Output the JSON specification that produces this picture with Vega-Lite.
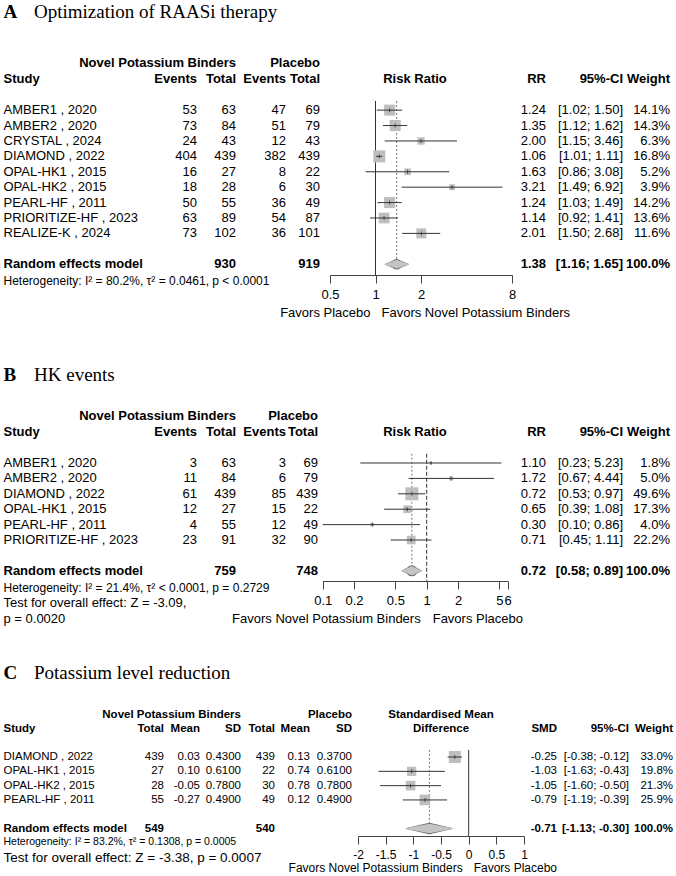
{
"$schema": "https://vega.github.io/schema/vega-lite/v6.json",
"background": "white",
"padding": 0,
"datasets": {
"one": [{"k": 1}],
"A": [
{"study":"AMBER1 , 2020","e1":53,"n1":63,"e2":47,"n2":69,"rr":1.24,"lo":1.02,"hi":1.50,"ci":"[1.02; 1.50]","w":0.141},
{"study":"AMBER2 , 2020","e1":73,"n1":84,"e2":51,"n2":79,"rr":1.35,"lo":1.12,"hi":1.62,"ci":"[1.12; 1.62]","w":0.143},
{"study":"CRYSTAL , 2024","e1":24,"n1":43,"e2":12,"n2":43,"rr":2.00,"lo":1.15,"hi":3.46,"ci":"[1.15; 3.46]","w":0.063},
{"study":"DIAMOND , 2022","e1":404,"n1":439,"e2":382,"n2":439,"rr":1.06,"lo":1.01,"hi":1.11,"ci":"[1.01; 1.11]","w":0.168},
{"study":"OPAL-HK1 , 2015","e1":16,"n1":27,"e2":8,"n2":22,"rr":1.63,"lo":0.86,"hi":3.08,"ci":"[0.86; 3.08]","w":0.052},
{"study":"OPAL-HK2 , 2015","e1":18,"n1":28,"e2":6,"n2":30,"rr":3.21,"lo":1.49,"hi":6.92,"ci":"[1.49; 6.92]","w":0.039},
{"study":"PEARL-HF , 2011","e1":50,"n1":55,"e2":36,"n2":49,"rr":1.24,"lo":1.03,"hi":1.49,"ci":"[1.03; 1.49]","w":0.142},
{"study":"PRIORITIZE-HF , 2023","e1":63,"n1":89,"e2":54,"n2":87,"rr":1.14,"lo":0.92,"hi":1.41,"ci":"[0.92; 1.41]","w":0.136},
{"study":"REALIZE-K , 2024","e1":73,"n1":102,"e2":36,"n2":101,"rr":2.01,"lo":1.50,"hi":2.68,"ci":"[1.50; 2.68]","w":0.116}
],
"As": [{"label":"Random effects model","n1":930,"n2":919,"rr":1.38,"lo":1.16,"hi":1.65,"ci":"[1.16; 1.65]","w":1}],
"B": [
{"study":"AMBER1 , 2020","e1":3,"n1":63,"e2":3,"n2":69,"rr":1.10,"lo":0.23,"hi":5.23,"ci":"[0.23; 5.23]","w":0.018},
{"study":"AMBER2 , 2020","e1":11,"n1":84,"e2":6,"n2":79,"rr":1.72,"lo":0.67,"hi":4.44,"ci":"[0.67; 4.44]","w":0.050},
{"study":"DIAMOND , 2022","e1":61,"n1":439,"e2":85,"n2":439,"rr":0.72,"lo":0.53,"hi":0.97,"ci":"[0.53; 0.97]","w":0.496},
{"study":"OPAL-HK1 , 2015","e1":12,"n1":27,"e2":15,"n2":22,"rr":0.65,"lo":0.39,"hi":1.08,"ci":"[0.39; 1.08]","w":0.173},
{"study":"PEARL-HF , 2011","e1":4,"n1":55,"e2":12,"n2":49,"rr":0.30,"lo":0.10,"hi":0.86,"ci":"[0.10; 0.86]","w":0.040},
{"study":"PRIORITIZE-HF , 2023","e1":23,"n1":91,"e2":32,"n2":90,"rr":0.71,"lo":0.45,"hi":1.11,"ci":"[0.45; 1.11]","w":0.222}
],
"Bs": [{"label":"Random effects model","n1":759,"n2":748,"rr":0.72,"lo":0.58,"hi":0.89,"ci":"[0.58; 0.89]","w":1}],
"C": [
{"study":"DIAMOND , 2022","n1":439,"m1":0.03,"sd1":0.43,"n2":439,"m2":0.13,"sd2":0.37,"smd":-0.25,"lo":-0.38,"hi":-0.12,"ci":"[-0.38; -0.12]","w":0.330},
{"study":"OPAL-HK1 , 2015","n1":27,"m1":0.10,"sd1":0.61,"n2":22,"m2":0.74,"sd2":0.61,"smd":-1.03,"lo":-1.63,"hi":-0.43,"ci":"[-1.63; -0.43]","w":0.198},
{"study":"OPAL-HK2 , 2015","n1":28,"m1":-0.05,"sd1":0.78,"n2":30,"m2":0.78,"sd2":0.78,"smd":-1.05,"lo":-1.60,"hi":-0.50,"ci":"[-1.60; -0.50]","w":0.213},
{"study":"PEARL-HF , 2011","n1":55,"m1":-0.27,"sd1":0.49,"n2":49,"m2":0.12,"sd2":0.49,"smd":-0.79,"lo":-1.19,"hi":-0.39,"ci":"[-1.19; -0.39]","w":0.259}
],
"Cs": [{"label":"Random effects model","n1":549,"n2":540,"smd":-0.71,"lo":-1.13,"hi":-0.30,"ci":"[-1.13; -0.30]","w":1}]
},
"vconcat": [
{
"width": 676, "height": 275,
"data": {"name": "A"},
"transform": [{"window": [{"op": "row_number", "as": "i"}]}],
"resolve": {"scale": {"x": "independent"}},
"layer": [
{"mark": {"type": "text", "align": "left"}, "encoding": {"x": {"datum": 0, "type": "quantitative", "scale": {"domain": [0,1,2,3,4,5,6,7,8,9], "range": [3.5,34,197,236,286,320,415,546,623,670], "nice": false, "zero": false}, "axis": null}, "y": {"field": "i", "type": "quantitative", "scale": {"domain": [-6.15, 11.7], "reverse": true, "nice": false, "zero": false}, "axis": null}, "text": {"field": "study", "type": "nominal"}}},
{"mark": {"type": "text", "align": "right"}, "encoding": {"x": {"datum": 2, "type": "quantitative", "scale": {"domain": [0,1,2,3,4,5,6,7,8,9], "range": [3.5,34,197,236,286,320,415,546,623,670], "nice": false, "zero": false}, "axis": null}, "y": {"field": "i", "type": "quantitative", "scale": {"domain": [-6.15, 11.7], "reverse": true, "nice": false, "zero": false}, "axis": null}, "text": {"field": "e1", "type": "quantitative", "format": "d"}}},
{"mark": {"type": "text", "align": "right"}, "encoding": {"x": {"datum": 3, "type": "quantitative", "scale": {"domain": [0,1,2,3,4,5,6,7,8,9], "range": [3.5,34,197,236,286,320,415,546,623,670], "nice": false, "zero": false}, "axis": null}, "y": {"field": "i", "type": "quantitative", "scale": {"domain": [-6.15, 11.7], "reverse": true, "nice": false, "zero": false}, "axis": null}, "text": {"field": "n1", "type": "quantitative", "format": "d"}}},
{"mark": {"type": "text", "align": "right"}, "encoding": {"x": {"datum": 4, "type": "quantitative", "scale": {"domain": [0,1,2,3,4,5,6,7,8,9], "range": [3.5,34,197,236,286,320,415,546,623,670], "nice": false, "zero": false}, "axis": null}, "y": {"field": "i", "type": "quantitative", "scale": {"domain": [-6.15, 11.7], "reverse": true, "nice": false, "zero": false}, "axis": null}, "text": {"field": "e2", "type": "quantitative", "format": "d"}}},
{"mark": {"type": "text", "align": "right"}, "encoding": {"x": {"datum": 5, "type": "quantitative", "scale": {"domain": [0,1,2,3,4,5,6,7,8,9], "range": [3.5,34,197,236,286,320,415,546,623,670], "nice": false, "zero": false}, "axis": null}, "y": {"field": "i", "type": "quantitative", "scale": {"domain": [-6.15, 11.7], "reverse": true, "nice": false, "zero": false}, "axis": null}, "text": {"field": "n2", "type": "quantitative", "format": "d"}}},
{"mark": {"type": "text", "align": "right"}, "encoding": {"x": {"datum": 7, "type": "quantitative", "scale": {"domain": [0,1,2,3,4,5,6,7,8,9], "range": [3.5,34,197,236,286,320,415,546,623,670], "nice": false, "zero": false}, "axis": null}, "y": {"field": "i", "type": "quantitative", "scale": {"domain": [-6.15, 11.7], "reverse": true, "nice": false, "zero": false}, "axis": null}, "text": {"field": "rr", "type": "quantitative", "format": ".2f"}}},
{"mark": {"type": "text", "align": "right"}, "encoding": {"x": {"datum": 8, "type": "quantitative", "scale": {"domain": [0,1,2,3,4,5,6,7,8,9], "range": [3.5,34,197,236,286,320,415,546,623,670], "nice": false, "zero": false}, "axis": null}, "y": {"field": "i", "type": "quantitative", "scale": {"domain": [-6.15, 11.7], "reverse": true, "nice": false, "zero": false}, "axis": null}, "text": {"field": "ci", "type": "nominal"}}},
{"mark": {"type": "text", "align": "right"}, "encoding": {"x": {"datum": 9, "type": "quantitative", "scale": {"domain": [0,1,2,3,4,5,6,7,8,9], "range": [3.5,34,197,236,286,320,415,546,623,670], "nice": false, "zero": false}, "axis": null}, "y": {"field": "i", "type": "quantitative", "scale": {"domain": [-6.15, 11.7], "reverse": true, "nice": false, "zero": false}, "axis": null}, "text": {"field": "w", "type": "quantitative", "format": ".1%"}}},
{"data": {"name": "one"}, "mark": {"type": "text", "align": "left", "font": "Liberation Serif", "fontSize": 19, "fontWeight": "bold"}, "encoding": {"x": {"datum": 0, "type": "quantitative", "scale": {"domain": [0,1,2,3,4,5,6,7,8,9], "range": [3.5,34,197,236,286,320,415,546,623,670], "nice": false, "zero": false}, "axis": null}, "y": {"datum": -5.4, "type": "quantitative", "scale": {"domain": [-6.15, 11.7], "reverse": true, "nice": false, "zero": false}, "axis": null}, "text": {"value": "A"}}},
{"data": {"name": "one"}, "mark": {"type": "text", "align": "left", "font": "Liberation Serif", "fontSize": 19}, "encoding": {"x": {"datum": 1, "type": "quantitative", "scale": {"domain": [0,1,2,3,4,5,6,7,8,9], "range": [3.5,34,197,236,286,320,415,546,623,670], "nice": false, "zero": false}, "axis": null}, "y": {"datum": -5.4, "type": "quantitative", "scale": {"domain": [-6.15, 11.7], "reverse": true, "nice": false, "zero": false}, "axis": null}, "text": {"value": "Optimization of RAASi therapy"}}},
{"data": {"name": "one"}, "mark": {"type": "text", "align": "right", "fontWeight": "bold"}, "encoding": {"x": {"datum": 3, "type": "quantitative", "scale": {"domain": [0,1,2,3,4,5,6,7,8,9], "range": [3.5,34,197,236,286,320,415,546,623,670], "nice": false, "zero": false}, "axis": null}, "y": {"datum": -2.07, "type": "quantitative", "scale": {"domain": [-6.15, 11.7], "reverse": true, "nice": false, "zero": false}, "axis": null}, "text": {"value": "Novel Potassium Binders"}}},
{"data": {"name": "one"}, "mark": {"type": "text", "align": "right", "fontWeight": "bold"}, "encoding": {"x": {"datum": 5, "type": "quantitative", "scale": {"domain": [0,1,2,3,4,5,6,7,8,9], "range": [3.5,34,197,236,286,320,415,546,623,670], "nice": false, "zero": false}, "axis": null}, "y": {"datum": -2.07, "type": "quantitative", "scale": {"domain": [-6.15, 11.7], "reverse": true, "nice": false, "zero": false}, "axis": null}, "text": {"value": "Placebo"}}},
{"data": {"name": "one"}, "mark": {"type": "text", "align": "left", "fontWeight": "bold"}, "encoding": {"x": {"datum": 0, "type": "quantitative", "scale": {"domain": [0,1,2,3,4,5,6,7,8,9], "range": [3.5,34,197,236,286,320,415,546,623,670], "nice": false, "zero": false}, "axis": null}, "y": {"datum": -1, "type": "quantitative", "scale": {"domain": [-6.15, 11.7], "reverse": true, "nice": false, "zero": false}, "axis": null}, "text": {"value": "Study"}}},
{"data": {"name": "one"}, "mark": {"type": "text", "align": "right", "fontWeight": "bold"}, "encoding": {"x": {"datum": 2, "type": "quantitative", "scale": {"domain": [0,1,2,3,4,5,6,7,8,9], "range": [3.5,34,197,236,286,320,415,546,623,670], "nice": false, "zero": false}, "axis": null}, "y": {"datum": -1, "type": "quantitative", "scale": {"domain": [-6.15, 11.7], "reverse": true, "nice": false, "zero": false}, "axis": null}, "text": {"value": "Events"}}},
{"data": {"name": "one"}, "mark": {"type": "text", "align": "right", "fontWeight": "bold"}, "encoding": {"x": {"datum": 3, "type": "quantitative", "scale": {"domain": [0,1,2,3,4,5,6,7,8,9], "range": [3.5,34,197,236,286,320,415,546,623,670], "nice": false, "zero": false}, "axis": null}, "y": {"datum": -1, "type": "quantitative", "scale": {"domain": [-6.15, 11.7], "reverse": true, "nice": false, "zero": false}, "axis": null}, "text": {"value": "Total"}}},
{"data": {"name": "one"}, "mark": {"type": "text", "align": "right", "fontWeight": "bold"}, "encoding": {"x": {"datum": 4, "type": "quantitative", "scale": {"domain": [0,1,2,3,4,5,6,7,8,9], "range": [3.5,34,197,236,286,320,415,546,623,670], "nice": false, "zero": false}, "axis": null}, "y": {"datum": -1, "type": "quantitative", "scale": {"domain": [-6.15, 11.7], "reverse": true, "nice": false, "zero": false}, "axis": null}, "text": {"value": "Events"}}},
{"data": {"name": "one"}, "mark": {"type": "text", "align": "right", "fontWeight": "bold"}, "encoding": {"x": {"datum": 5, "type": "quantitative", "scale": {"domain": [0,1,2,3,4,5,6,7,8,9], "range": [3.5,34,197,236,286,320,415,546,623,670], "nice": false, "zero": false}, "axis": null}, "y": {"datum": -1, "type": "quantitative", "scale": {"domain": [-6.15, 11.7], "reverse": true, "nice": false, "zero": false}, "axis": null}, "text": {"value": "Total"}}},
{"data": {"name": "one"}, "mark": {"type": "text", "align": "center", "fontWeight": "bold"}, "encoding": {"x": {"datum": 6, "type": "quantitative", "scale": {"domain": [0,1,2,3,4,5,6,7,8,9], "range": [3.5,34,197,236,286,320,415,546,623,670], "nice": false, "zero": false}, "axis": null}, "y": {"datum": -1, "type": "quantitative", "scale": {"domain": [-6.15, 11.7], "reverse": true, "nice": false, "zero": false}, "axis": null}, "text": {"value": "Risk Ratio"}}},
{"data": {"name": "one"}, "mark": {"type": "text", "align": "right", "fontWeight": "bold"}, "encoding": {"x": {"datum": 7, "type": "quantitative", "scale": {"domain": [0,1,2,3,4,5,6,7,8,9], "range": [3.5,34,197,236,286,320,415,546,623,670], "nice": false, "zero": false}, "axis": null}, "y": {"datum": -1, "type": "quantitative", "scale": {"domain": [-6.15, 11.7], "reverse": true, "nice": false, "zero": false}, "axis": null}, "text": {"value": "RR"}}},
{"data": {"name": "one"}, "mark": {"type": "text", "align": "right", "fontWeight": "bold"}, "encoding": {"x": {"datum": 8, "type": "quantitative", "scale": {"domain": [0,1,2,3,4,5,6,7,8,9], "range": [3.5,34,197,236,286,320,415,546,623,670], "nice": false, "zero": false}, "axis": null}, "y": {"datum": -1, "type": "quantitative", "scale": {"domain": [-6.15, 11.7], "reverse": true, "nice": false, "zero": false}, "axis": null}, "text": {"value": "95%-CI"}}},
{"data": {"name": "one"}, "mark": {"type": "text", "align": "right", "fontWeight": "bold"}, "encoding": {"x": {"datum": 9, "type": "quantitative", "scale": {"domain": [0,1,2,3,4,5,6,7,8,9], "range": [3.5,34,197,236,286,320,415,546,623,670], "nice": false, "zero": false}, "axis": null}, "y": {"datum": -1, "type": "quantitative", "scale": {"domain": [-6.15, 11.7], "reverse": true, "nice": false, "zero": false}, "axis": null}, "text": {"value": "Weight"}}},
{"data": {"name": "As"}, "mark": {"type": "text", "align": "left", "fontWeight": "bold"}, "encoding": {"x": {"datum": 0, "type": "quantitative", "scale": {"domain": [0,1,2,3,4,5,6,7,8,9], "range": [3.5,34,197,236,286,320,415,546,623,670], "nice": false, "zero": false}, "axis": null}, "y": {"datum": 11, "type": "quantitative", "scale": {"domain": [-6.15, 11.7], "reverse": true, "nice": false, "zero": false}, "axis": null}, "text": {"field": "label", "type": "nominal"}}},
{"data": {"name": "As"}, "mark": {"type": "text", "align": "right", "fontWeight": "bold"}, "encoding": {"x": {"datum": 3, "type": "quantitative", "scale": {"domain": [0,1,2,3,4,5,6,7,8,9], "range": [3.5,34,197,236,286,320,415,546,623,670], "nice": false, "zero": false}, "axis": null}, "y": {"datum": 11, "type": "quantitative", "scale": {"domain": [-6.15, 11.7], "reverse": true, "nice": false, "zero": false}, "axis": null}, "text": {"field": "n1", "type": "quantitative", "format": "d"}}},
{"data": {"name": "As"}, "mark": {"type": "text", "align": "right", "fontWeight": "bold"}, "encoding": {"x": {"datum": 5, "type": "quantitative", "scale": {"domain": [0,1,2,3,4,5,6,7,8,9], "range": [3.5,34,197,236,286,320,415,546,623,670], "nice": false, "zero": false}, "axis": null}, "y": {"datum": 11, "type": "quantitative", "scale": {"domain": [-6.15, 11.7], "reverse": true, "nice": false, "zero": false}, "axis": null}, "text": {"field": "n2", "type": "quantitative", "format": "d"}}},
{"data": {"name": "As"}, "mark": {"type": "text", "align": "right", "fontWeight": "bold"}, "encoding": {"x": {"datum": 7, "type": "quantitative", "scale": {"domain": [0,1,2,3,4,5,6,7,8,9], "range": [3.5,34,197,236,286,320,415,546,623,670], "nice": false, "zero": false}, "axis": null}, "y": {"datum": 11, "type": "quantitative", "scale": {"domain": [-6.15, 11.7], "reverse": true, "nice": false, "zero": false}, "axis": null}, "text": {"field": "rr", "type": "quantitative", "format": ".2f"}}},
{"data": {"name": "As"}, "mark": {"type": "text", "align": "right", "fontWeight": "bold"}, "encoding": {"x": {"datum": 8, "type": "quantitative", "scale": {"domain": [0,1,2,3,4,5,6,7,8,9], "range": [3.5,34,197,236,286,320,415,546,623,670], "nice": false, "zero": false}, "axis": null}, "y": {"datum": 11, "type": "quantitative", "scale": {"domain": [-6.15, 11.7], "reverse": true, "nice": false, "zero": false}, "axis": null}, "text": {"field": "ci", "type": "nominal"}}},
{"data": {"name": "As"}, "mark": {"type": "text", "align": "right", "fontWeight": "bold"}, "encoding": {"x": {"datum": 9, "type": "quantitative", "scale": {"domain": [0,1,2,3,4,5,6,7,8,9], "range": [3.5,34,197,236,286,320,415,546,623,670], "nice": false, "zero": false}, "axis": null}, "y": {"datum": 11, "type": "quantitative", "scale": {"domain": [-6.15, 11.7], "reverse": true, "nice": false, "zero": false}, "axis": null}, "text": {"field": "w", "type": "quantitative", "format": ".1%"}}},
{"data": {"name": "one"}, "mark": {"type": "text", "align": "left", "fontSize": 12}, "encoding": {"x": {"datum": 0, "type": "quantitative", "scale": {"domain": [0,1,2,3,4,5,6,7,8,9], "range": [3.5,34,197,236,286,320,415,546,623,670], "nice": false, "zero": false}, "axis": null}, "y": {"datum": 12.1, "type": "quantitative", "scale": {"domain": [-6.15, 11.7], "reverse": true, "nice": false, "zero": false}, "axis": null}, "text": {"value": "Heterogeneity: I² = 80.2%, τ² = 0.0461, p < 0.0001"}}},
{"data": {"name": "one"}, "mark": {"type": "rule", "color": "#333", "strokeWidth": 1}, "encoding": {"x": {"datum": 1, "type": "quantitative", "scale": {"type": "log", "domain": [0.5, 8], "range": [330, 512], "nice": false}, "axis": null}, "y": {"datum": 0.4, "type": "quantitative", "scale": {"domain": [-6.15, 11.7], "reverse": true, "nice": false, "zero": false}, "axis": null}, "y2": {"datum": 11.7}}},
{"data": {"name": "As"}, "mark": {"type": "rule", "color": "#777", "strokeDash": [2, 2]}, "encoding": {"x": {"field": "rr", "type": "quantitative", "scale": {"type": "log", "domain": [0.5, 8], "range": [330, 512], "nice": false}, "axis": null}, "y": {"datum": 0.4, "type": "quantitative", "scale": {"domain": [-6.15, 11.7], "reverse": true, "nice": false, "zero": false}, "axis": null}, "y2": {"datum": 10.7}}},
{"mark": {"type": "point", "shape": "square", "filled": true, "color": "#BEBEBE", "opacity": 1}, "encoding": {"x": {"field": "rr", "type": "quantitative", "scale": {"type": "log", "domain": [0.5, 8], "range": [330, 512], "nice": false}, "axis": {"orient": "bottom", "values": [0.5, 1, 2, 8], "labelExpr": "'' + datum.value", "title": null}}, "y": {"field": "i", "type": "quantitative", "scale": {"domain": [-6.15, 11.7], "reverse": true, "nice": false, "zero": false}, "axis": null}, "size": {"field": "w", "type": "quantitative", "scale": {"domain": [0, 0.168], "range": [0, 144]}, "legend": null}}},
{"mark": {"type": "rule", "color": "#333", "strokeWidth": 1}, "encoding": {"x": {"field": "lo", "type": "quantitative", "scale": {"type": "log", "domain": [0.5, 8], "range": [330, 512], "nice": false}, "axis": null}, "x2": {"field": "hi"}, "y": {"field": "i", "type": "quantitative", "scale": {"domain": [-6.15, 11.7], "reverse": true, "nice": false, "zero": false}, "axis": null}}},
{"mark": {"type": "tick", "orient": "vertical", "size": 4, "thickness": 1, "color": "#222"}, "encoding": {"x": {"field": "rr", "type": "quantitative", "scale": {"type": "log", "domain": [0.5, 8], "range": [330, 512], "nice": false}, "axis": null}, "y": {"field": "i", "type": "quantitative", "scale": {"domain": [-6.15, 11.7], "reverse": true, "nice": false, "zero": false}, "axis": null}}},
{"data": {"name": "As"}, "transform": [{"fold": ["lo", "rr", "hi"]}], "mark": {"type": "trail", "color": "#666"}, "encoding": {"x": {"field": "value", "type": "quantitative", "scale": {"type": "log", "domain": [0.5, 8], "range": [330, 512], "nice": false}, "axis": null}, "y": {"datum": 11, "type": "quantitative", "scale": {"domain": [-6.15, 11.7], "reverse": true, "nice": false, "zero": false}, "axis": null}, "size": {"condition": {"test": "datum.key === 'rr'", "value": 10.5}, "value": 0}}},
{"data": {"name": "As"}, "transform": [{"fold": ["lo", "rr", "hi"]}], "mark": {"type": "trail", "color": "#C4C4C4"}, "encoding": {"x": {"field": "value", "type": "quantitative", "scale": {"type": "log", "domain": [0.5, 8], "range": [330, 512], "nice": false}, "axis": null}, "y": {"datum": 11, "type": "quantitative", "scale": {"domain": [-6.15, 11.7], "reverse": true, "nice": false, "zero": false}, "axis": null}, "size": {"condition": {"test": "datum.key === 'rr'", "value": 8.5}, "value": 0}}},
{"data": {"name": "one"}, "mark": {"type": "text", "align": "right", "dx": -5}, "encoding": {"x": {"datum": 1, "type": "quantitative", "scale": {"type": "log", "domain": [0.5, 8], "range": [330, 512], "nice": false}, "axis": null}, "y": {"datum": 14.15, "type": "quantitative", "scale": {"domain": [-6.15, 11.7], "reverse": true, "nice": false, "zero": false}, "axis": null}, "text": {"value": "Favors Placebo"}}},
{"data": {"name": "one"}, "mark": {"type": "text", "align": "left", "dx": 6}, "encoding": {"x": {"datum": 1, "type": "quantitative", "scale": {"type": "log", "domain": [0.5, 8], "range": [330, 512], "nice": false}, "axis": null}, "y": {"datum": 14.15, "type": "quantitative", "scale": {"domain": [-6.15, 11.7], "reverse": true, "nice": false, "zero": false}, "axis": null}, "text": {"value": "Favors Novel Potassium Binders"}}}
]
},
{
"width": 676, "height": 246,
"data": {"name": "B"},
"transform": [{"window": [{"op": "row_number", "as": "i"}]}],
"resolve": {"scale": {"x": "independent"}},
"layer": [
{"mark": {"type": "text", "align": "left"}, "encoding": {"x": {"datum": 0, "type": "quantitative", "scale": {"domain": [0,1,2,3,4,5,6,7,8,9], "range": [3.5,34,197,236,286,318,415,546,623,670], "nice": false, "zero": false}, "axis": null}, "y": {"field": "i", "type": "quantitative", "scale": {"domain": [-7.31, 8.66], "reverse": true, "nice": false, "zero": false}, "axis": null}, "text": {"field": "study", "type": "nominal"}}},
{"mark": {"type": "text", "align": "right"}, "encoding": {"x": {"datum": 2, "type": "quantitative", "scale": {"domain": [0,1,2,3,4,5,6,7,8,9], "range": [3.5,34,197,236,286,318,415,546,623,670], "nice": false, "zero": false}, "axis": null}, "y": {"field": "i", "type": "quantitative", "scale": {"domain": [-7.31, 8.66], "reverse": true, "nice": false, "zero": false}, "axis": null}, "text": {"field": "e1", "type": "quantitative", "format": "d"}}},
{"mark": {"type": "text", "align": "right"}, "encoding": {"x": {"datum": 3, "type": "quantitative", "scale": {"domain": [0,1,2,3,4,5,6,7,8,9], "range": [3.5,34,197,236,286,318,415,546,623,670], "nice": false, "zero": false}, "axis": null}, "y": {"field": "i", "type": "quantitative", "scale": {"domain": [-7.31, 8.66], "reverse": true, "nice": false, "zero": false}, "axis": null}, "text": {"field": "n1", "type": "quantitative", "format": "d"}}},
{"mark": {"type": "text", "align": "right"}, "encoding": {"x": {"datum": 4, "type": "quantitative", "scale": {"domain": [0,1,2,3,4,5,6,7,8,9], "range": [3.5,34,197,236,286,318,415,546,623,670], "nice": false, "zero": false}, "axis": null}, "y": {"field": "i", "type": "quantitative", "scale": {"domain": [-7.31, 8.66], "reverse": true, "nice": false, "zero": false}, "axis": null}, "text": {"field": "e2", "type": "quantitative", "format": "d"}}},
{"mark": {"type": "text", "align": "right"}, "encoding": {"x": {"datum": 5, "type": "quantitative", "scale": {"domain": [0,1,2,3,4,5,6,7,8,9], "range": [3.5,34,197,236,286,318,415,546,623,670], "nice": false, "zero": false}, "axis": null}, "y": {"field": "i", "type": "quantitative", "scale": {"domain": [-7.31, 8.66], "reverse": true, "nice": false, "zero": false}, "axis": null}, "text": {"field": "n2", "type": "quantitative", "format": "d"}}},
{"mark": {"type": "text", "align": "right"}, "encoding": {"x": {"datum": 7, "type": "quantitative", "scale": {"domain": [0,1,2,3,4,5,6,7,8,9], "range": [3.5,34,197,236,286,318,415,546,623,670], "nice": false, "zero": false}, "axis": null}, "y": {"field": "i", "type": "quantitative", "scale": {"domain": [-7.31, 8.66], "reverse": true, "nice": false, "zero": false}, "axis": null}, "text": {"field": "rr", "type": "quantitative", "format": ".2f"}}},
{"mark": {"type": "text", "align": "right"}, "encoding": {"x": {"datum": 8, "type": "quantitative", "scale": {"domain": [0,1,2,3,4,5,6,7,8,9], "range": [3.5,34,197,236,286,318,415,546,623,670], "nice": false, "zero": false}, "axis": null}, "y": {"field": "i", "type": "quantitative", "scale": {"domain": [-7.31, 8.66], "reverse": true, "nice": false, "zero": false}, "axis": null}, "text": {"field": "ci", "type": "nominal"}}},
{"mark": {"type": "text", "align": "right"}, "encoding": {"x": {"datum": 9, "type": "quantitative", "scale": {"domain": [0,1,2,3,4,5,6,7,8,9], "range": [3.5,34,197,236,286,318,415,546,623,670], "nice": false, "zero": false}, "axis": null}, "y": {"field": "i", "type": "quantitative", "scale": {"domain": [-7.31, 8.66], "reverse": true, "nice": false, "zero": false}, "axis": null}, "text": {"field": "w", "type": "quantitative", "format": ".1%"}}},
{"data": {"name": "one"}, "mark": {"type": "text", "align": "left", "font": "Liberation Serif", "fontSize": 19, "fontWeight": "bold"}, "encoding": {"x": {"datum": 0, "type": "quantitative", "scale": {"domain": [0,1,2,3,4,5,6,7,8,9], "range": [3.5,34,197,236,286,318,415,546,623,670], "nice": false, "zero": false}, "axis": null}, "y": {"datum": -4.71, "type": "quantitative", "scale": {"domain": [-7.31, 8.66], "reverse": true, "nice": false, "zero": false}, "axis": null}, "text": {"value": "B"}}},
{"data": {"name": "one"}, "mark": {"type": "text", "align": "left", "font": "Liberation Serif", "fontSize": 19}, "encoding": {"x": {"datum": 1, "type": "quantitative", "scale": {"domain": [0,1,2,3,4,5,6,7,8,9], "range": [3.5,34,197,236,286,318,415,546,623,670], "nice": false, "zero": false}, "axis": null}, "y": {"datum": -4.71, "type": "quantitative", "scale": {"domain": [-7.31, 8.66], "reverse": true, "nice": false, "zero": false}, "axis": null}, "text": {"value": "HK events"}}},
{"data": {"name": "one"}, "mark": {"type": "text", "align": "right", "fontWeight": "bold"}, "encoding": {"x": {"datum": 3, "type": "quantitative", "scale": {"domain": [0,1,2,3,4,5,6,7,8,9], "range": [3.5,34,197,236,286,318,415,546,623,670], "nice": false, "zero": false}, "axis": null}, "y": {"datum": -2.07, "type": "quantitative", "scale": {"domain": [-7.31, 8.66], "reverse": true, "nice": false, "zero": false}, "axis": null}, "text": {"value": "Novel Potassium Binders"}}},
{"data": {"name": "one"}, "mark": {"type": "text", "align": "right", "fontWeight": "bold"}, "encoding": {"x": {"datum": 5, "type": "quantitative", "scale": {"domain": [0,1,2,3,4,5,6,7,8,9], "range": [3.5,34,197,236,286,318,415,546,623,670], "nice": false, "zero": false}, "axis": null}, "y": {"datum": -2.07, "type": "quantitative", "scale": {"domain": [-7.31, 8.66], "reverse": true, "nice": false, "zero": false}, "axis": null}, "text": {"value": "Placebo"}}},
{"data": {"name": "one"}, "mark": {"type": "text", "align": "left", "fontWeight": "bold"}, "encoding": {"x": {"datum": 0, "type": "quantitative", "scale": {"domain": [0,1,2,3,4,5,6,7,8,9], "range": [3.5,34,197,236,286,318,415,546,623,670], "nice": false, "zero": false}, "axis": null}, "y": {"datum": -1, "type": "quantitative", "scale": {"domain": [-7.31, 8.66], "reverse": true, "nice": false, "zero": false}, "axis": null}, "text": {"value": "Study"}}},
{"data": {"name": "one"}, "mark": {"type": "text", "align": "right", "fontWeight": "bold"}, "encoding": {"x": {"datum": 2, "type": "quantitative", "scale": {"domain": [0,1,2,3,4,5,6,7,8,9], "range": [3.5,34,197,236,286,318,415,546,623,670], "nice": false, "zero": false}, "axis": null}, "y": {"datum": -1, "type": "quantitative", "scale": {"domain": [-7.31, 8.66], "reverse": true, "nice": false, "zero": false}, "axis": null}, "text": {"value": "Events"}}},
{"data": {"name": "one"}, "mark": {"type": "text", "align": "right", "fontWeight": "bold"}, "encoding": {"x": {"datum": 3, "type": "quantitative", "scale": {"domain": [0,1,2,3,4,5,6,7,8,9], "range": [3.5,34,197,236,286,318,415,546,623,670], "nice": false, "zero": false}, "axis": null}, "y": {"datum": -1, "type": "quantitative", "scale": {"domain": [-7.31, 8.66], "reverse": true, "nice": false, "zero": false}, "axis": null}, "text": {"value": "Total"}}},
{"data": {"name": "one"}, "mark": {"type": "text", "align": "right", "fontWeight": "bold"}, "encoding": {"x": {"datum": 4, "type": "quantitative", "scale": {"domain": [0,1,2,3,4,5,6,7,8,9], "range": [3.5,34,197,236,286,318,415,546,623,670], "nice": false, "zero": false}, "axis": null}, "y": {"datum": -1, "type": "quantitative", "scale": {"domain": [-7.31, 8.66], "reverse": true, "nice": false, "zero": false}, "axis": null}, "text": {"value": "Events"}}},
{"data": {"name": "one"}, "mark": {"type": "text", "align": "right", "fontWeight": "bold"}, "encoding": {"x": {"datum": 5, "type": "quantitative", "scale": {"domain": [0,1,2,3,4,5,6,7,8,9], "range": [3.5,34,197,236,286,318,415,546,623,670], "nice": false, "zero": false}, "axis": null}, "y": {"datum": -1, "type": "quantitative", "scale": {"domain": [-7.31, 8.66], "reverse": true, "nice": false, "zero": false}, "axis": null}, "text": {"value": "Total"}}},
{"data": {"name": "one"}, "mark": {"type": "text", "align": "center", "fontWeight": "bold"}, "encoding": {"x": {"datum": 6, "type": "quantitative", "scale": {"domain": [0,1,2,3,4,5,6,7,8,9], "range": [3.5,34,197,236,286,318,415,546,623,670], "nice": false, "zero": false}, "axis": null}, "y": {"datum": -1, "type": "quantitative", "scale": {"domain": [-7.31, 8.66], "reverse": true, "nice": false, "zero": false}, "axis": null}, "text": {"value": "Risk Ratio"}}},
{"data": {"name": "one"}, "mark": {"type": "text", "align": "right", "fontWeight": "bold"}, "encoding": {"x": {"datum": 7, "type": "quantitative", "scale": {"domain": [0,1,2,3,4,5,6,7,8,9], "range": [3.5,34,197,236,286,318,415,546,623,670], "nice": false, "zero": false}, "axis": null}, "y": {"datum": -1, "type": "quantitative", "scale": {"domain": [-7.31, 8.66], "reverse": true, "nice": false, "zero": false}, "axis": null}, "text": {"value": "RR"}}},
{"data": {"name": "one"}, "mark": {"type": "text", "align": "right", "fontWeight": "bold"}, "encoding": {"x": {"datum": 8, "type": "quantitative", "scale": {"domain": [0,1,2,3,4,5,6,7,8,9], "range": [3.5,34,197,236,286,318,415,546,623,670], "nice": false, "zero": false}, "axis": null}, "y": {"datum": -1, "type": "quantitative", "scale": {"domain": [-7.31, 8.66], "reverse": true, "nice": false, "zero": false}, "axis": null}, "text": {"value": "95%-CI"}}},
{"data": {"name": "one"}, "mark": {"type": "text", "align": "right", "fontWeight": "bold"}, "encoding": {"x": {"datum": 9, "type": "quantitative", "scale": {"domain": [0,1,2,3,4,5,6,7,8,9], "range": [3.5,34,197,236,286,318,415,546,623,670], "nice": false, "zero": false}, "axis": null}, "y": {"datum": -1, "type": "quantitative", "scale": {"domain": [-7.31, 8.66], "reverse": true, "nice": false, "zero": false}, "axis": null}, "text": {"value": "Weight"}}},
{"data": {"name": "Bs"}, "mark": {"type": "text", "align": "left", "fontWeight": "bold"}, "encoding": {"x": {"datum": 0, "type": "quantitative", "scale": {"domain": [0,1,2,3,4,5,6,7,8,9], "range": [3.5,34,197,236,286,318,415,546,623,670], "nice": false, "zero": false}, "axis": null}, "y": {"datum": 8, "type": "quantitative", "scale": {"domain": [-7.31, 8.66], "reverse": true, "nice": false, "zero": false}, "axis": null}, "text": {"field": "label", "type": "nominal"}}},
{"data": {"name": "Bs"}, "mark": {"type": "text", "align": "right", "fontWeight": "bold"}, "encoding": {"x": {"datum": 3, "type": "quantitative", "scale": {"domain": [0,1,2,3,4,5,6,7,8,9], "range": [3.5,34,197,236,286,318,415,546,623,670], "nice": false, "zero": false}, "axis": null}, "y": {"datum": 8, "type": "quantitative", "scale": {"domain": [-7.31, 8.66], "reverse": true, "nice": false, "zero": false}, "axis": null}, "text": {"field": "n1", "type": "quantitative", "format": "d"}}},
{"data": {"name": "Bs"}, "mark": {"type": "text", "align": "right", "fontWeight": "bold"}, "encoding": {"x": {"datum": 5, "type": "quantitative", "scale": {"domain": [0,1,2,3,4,5,6,7,8,9], "range": [3.5,34,197,236,286,318,415,546,623,670], "nice": false, "zero": false}, "axis": null}, "y": {"datum": 8, "type": "quantitative", "scale": {"domain": [-7.31, 8.66], "reverse": true, "nice": false, "zero": false}, "axis": null}, "text": {"field": "n2", "type": "quantitative", "format": "d"}}},
{"data": {"name": "Bs"}, "mark": {"type": "text", "align": "right", "fontWeight": "bold"}, "encoding": {"x": {"datum": 7, "type": "quantitative", "scale": {"domain": [0,1,2,3,4,5,6,7,8,9], "range": [3.5,34,197,236,286,318,415,546,623,670], "nice": false, "zero": false}, "axis": null}, "y": {"datum": 8, "type": "quantitative", "scale": {"domain": [-7.31, 8.66], "reverse": true, "nice": false, "zero": false}, "axis": null}, "text": {"field": "rr", "type": "quantitative", "format": ".2f"}}},
{"data": {"name": "Bs"}, "mark": {"type": "text", "align": "right", "fontWeight": "bold"}, "encoding": {"x": {"datum": 8, "type": "quantitative", "scale": {"domain": [0,1,2,3,4,5,6,7,8,9], "range": [3.5,34,197,236,286,318,415,546,623,670], "nice": false, "zero": false}, "axis": null}, "y": {"datum": 8, "type": "quantitative", "scale": {"domain": [-7.31, 8.66], "reverse": true, "nice": false, "zero": false}, "axis": null}, "text": {"field": "ci", "type": "nominal"}}},
{"data": {"name": "Bs"}, "mark": {"type": "text", "align": "right", "fontWeight": "bold"}, "encoding": {"x": {"datum": 9, "type": "quantitative", "scale": {"domain": [0,1,2,3,4,5,6,7,8,9], "range": [3.5,34,197,236,286,318,415,546,623,670], "nice": false, "zero": false}, "axis": null}, "y": {"datum": 8, "type": "quantitative", "scale": {"domain": [-7.31, 8.66], "reverse": true, "nice": false, "zero": false}, "axis": null}, "text": {"field": "w", "type": "quantitative", "format": ".1%"}}},
{"data": {"name": "one"}, "mark": {"type": "text", "align": "left", "fontSize": 12}, "encoding": {"x": {"datum": 0, "type": "quantitative", "scale": {"domain": [0,1,2,3,4,5,6,7,8,9], "range": [3.5,34,197,236,286,318,415,546,623,670], "nice": false, "zero": false}, "axis": null}, "y": {"datum": 9.1, "type": "quantitative", "scale": {"domain": [-7.31, 8.66], "reverse": true, "nice": false, "zero": false}, "axis": null}, "text": {"value": "Heterogeneity: I² = 21.4%, τ² < 0.0001, p = 0.2729"}}},
{"data": {"name": "one"}, "mark": {"type": "text", "align": "left"}, "encoding": {"x": {"datum": 0, "type": "quantitative", "scale": {"domain": [0,1,2,3,4,5,6,7,8,9], "range": [3.5,34,197,236,286,318,415,546,623,670], "nice": false, "zero": false}, "axis": null}, "y": {"datum": 10.1, "type": "quantitative", "scale": {"domain": [-7.31, 8.66], "reverse": true, "nice": false, "zero": false}, "axis": null}, "text": {"value": "Test for overall effect: Z = -3.09,"}}},
{"data": {"name": "one"}, "mark": {"type": "text", "align": "left"}, "encoding": {"x": {"datum": 0, "type": "quantitative", "scale": {"domain": [0,1,2,3,4,5,6,7,8,9], "range": [3.5,34,197,236,286,318,415,546,623,670], "nice": false, "zero": false}, "axis": null}, "y": {"datum": 11.1, "type": "quantitative", "scale": {"domain": [-7.31, 8.66], "reverse": true, "nice": false, "zero": false}, "axis": null}, "text": {"value": "p = 0.0020"}}},
{"data": {"name": "one"}, "mark": {"type": "rule", "color": "#333", "strokeWidth": 1, "strokeDash": [4, 2]}, "encoding": {"x": {"datum": 1, "type": "quantitative", "scale": {"type": "log", "domain": [0.1, 6], "range": [322.7, 507.6], "nice": false}, "axis": null}, "y": {"datum": 0.4, "type": "quantitative", "scale": {"domain": [-7.31, 8.66], "reverse": true, "nice": false, "zero": false}, "axis": null}, "y2": {"datum": 8.66}}},
{"data": {"name": "Bs"}, "mark": {"type": "rule", "color": "#777", "strokeDash": [2, 2]}, "encoding": {"x": {"field": "rr", "type": "quantitative", "scale": {"type": "log", "domain": [0.1, 6], "range": [322.7, 507.6], "nice": false}, "axis": null}, "y": {"datum": 0.4, "type": "quantitative", "scale": {"domain": [-7.31, 8.66], "reverse": true, "nice": false, "zero": false}, "axis": null}, "y2": {"datum": 7.7}}},
{"mark": {"type": "point", "shape": "square", "filled": true, "color": "#BEBEBE", "opacity": 1}, "encoding": {"x": {"field": "rr", "type": "quantitative", "scale": {"type": "log", "domain": [0.1, 6], "range": [322.7, 507.6], "nice": false}, "axis": {"orient": "bottom", "values": [0.1, 0.2, 0.5, 1, 2, 5, 6], "labelExpr": "'' + datum.value", "title": null}}, "y": {"field": "i", "type": "quantitative", "scale": {"domain": [-7.31, 8.66], "reverse": true, "nice": false, "zero": false}, "axis": null}, "size": {"field": "w", "type": "quantitative", "scale": {"domain": [0, 0.496], "range": [0, 169]}, "legend": null}}},
{"mark": {"type": "rule", "color": "#333", "strokeWidth": 1}, "encoding": {"x": {"field": "lo", "type": "quantitative", "scale": {"type": "log", "domain": [0.1, 6], "range": [322.7, 507.6], "nice": false}, "axis": null}, "x2": {"field": "hi"}, "y": {"field": "i", "type": "quantitative", "scale": {"domain": [-7.31, 8.66], "reverse": true, "nice": false, "zero": false}, "axis": null}}},
{"mark": {"type": "tick", "orient": "vertical", "size": 4, "thickness": 1, "color": "#222"}, "encoding": {"x": {"field": "rr", "type": "quantitative", "scale": {"type": "log", "domain": [0.1, 6], "range": [322.7, 507.6], "nice": false}, "axis": null}, "y": {"field": "i", "type": "quantitative", "scale": {"domain": [-7.31, 8.66], "reverse": true, "nice": false, "zero": false}, "axis": null}}},
{"data": {"name": "Bs"}, "transform": [{"fold": ["lo", "rr", "hi"]}], "mark": {"type": "trail", "color": "#666"}, "encoding": {"x": {"field": "value", "type": "quantitative", "scale": {"type": "log", "domain": [0.1, 6], "range": [322.7, 507.6], "nice": false}, "axis": null}, "y": {"datum": 8, "type": "quantitative", "scale": {"domain": [-7.31, 8.66], "reverse": true, "nice": false, "zero": false}, "axis": null}, "size": {"condition": {"test": "datum.key === 'rr'", "value": 11}, "value": 0}}},
{"data": {"name": "Bs"}, "transform": [{"fold": ["lo", "rr", "hi"]}], "mark": {"type": "trail", "color": "#C4C4C4"}, "encoding": {"x": {"field": "value", "type": "quantitative", "scale": {"type": "log", "domain": [0.1, 6], "range": [322.7, 507.6], "nice": false}, "axis": null}, "y": {"datum": 8, "type": "quantitative", "scale": {"domain": [-7.31, 8.66], "reverse": true, "nice": false, "zero": false}, "axis": null}, "size": {"condition": {"test": "datum.key === 'rr'", "value": 9}, "value": 0}}},
{"data": {"name": "one"}, "mark": {"type": "text", "align": "right", "dx": -6}, "encoding": {"x": {"datum": 1, "type": "quantitative", "scale": {"type": "log", "domain": [0.1, 6], "range": [322.7, 507.6], "nice": false}, "axis": null}, "y": {"datum": 11.1, "type": "quantitative", "scale": {"domain": [-7.31, 8.66], "reverse": true, "nice": false, "zero": false}, "axis": null}, "text": {"value": "Favors Novel Potassium Binders"}}},
{"data": {"name": "one"}, "mark": {"type": "text", "align": "left", "dx": 6}, "encoding": {"x": {"datum": 1, "type": "quantitative", "scale": {"type": "log", "domain": [0.1, 6], "range": [322.7, 507.6], "nice": false}, "axis": null}, "y": {"datum": 11.1, "type": "quantitative", "scale": {"domain": [-7.31, 8.66], "reverse": true, "nice": false, "zero": false}, "axis": null}, "text": {"value": "Favors Placebo"}}}
]
},
{
"width": 676, "height": 195,
"data": {"name": "C"},
"transform": [{"window": [{"op": "row_number", "as": "i"}]}],
"resolve": {"scale": {"x": "independent"}},
"layer": [
{"mark": {"type": "text", "align": "left", "fontSize": 11.5}, "encoding": {"x": {"datum": 0, "type": "quantitative", "scale": {"domain": [0,1,2,3,4,5,6,7,8,9,10,11], "range": [3.5,34,164,200,241,275,310,352,441,557,629,673], "nice": false, "zero": false}, "axis": null}, "y": {"field": "i", "type": "quantitative", "scale": {"domain": [-7.11, 6.52], "reverse": true, "nice": false, "zero": false}, "axis": null}, "text": {"field": "study", "type": "nominal"}}},
{"mark": {"type": "text", "align": "right", "fontSize": 11.5}, "encoding": {"x": {"datum": 2, "type": "quantitative", "scale": {"domain": [0,1,2,3,4,5,6,7,8,9,10,11], "range": [3.5,34,164,200,241,275,310,352,441,557,629,673], "nice": false, "zero": false}, "axis": null}, "y": {"field": "i", "type": "quantitative", "scale": {"domain": [-7.11, 6.52], "reverse": true, "nice": false, "zero": false}, "axis": null}, "text": {"field": "n1", "type": "quantitative", "format": "d"}}},
{"mark": {"type": "text", "align": "right", "fontSize": 11.5}, "encoding": {"x": {"datum": 3, "type": "quantitative", "scale": {"domain": [0,1,2,3,4,5,6,7,8,9,10,11], "range": [3.5,34,164,200,241,275,310,352,441,557,629,673], "nice": false, "zero": false}, "axis": null}, "y": {"field": "i", "type": "quantitative", "scale": {"domain": [-7.11, 6.52], "reverse": true, "nice": false, "zero": false}, "axis": null}, "text": {"field": "m1", "type": "quantitative", "format": ".2f"}}},
{"mark": {"type": "text", "align": "right", "fontSize": 11.5}, "encoding": {"x": {"datum": 4, "type": "quantitative", "scale": {"domain": [0,1,2,3,4,5,6,7,8,9,10,11], "range": [3.5,34,164,200,241,275,310,352,441,557,629,673], "nice": false, "zero": false}, "axis": null}, "y": {"field": "i", "type": "quantitative", "scale": {"domain": [-7.11, 6.52], "reverse": true, "nice": false, "zero": false}, "axis": null}, "text": {"field": "sd1", "type": "quantitative", "format": ".4f"}}},
{"mark": {"type": "text", "align": "right", "fontSize": 11.5}, "encoding": {"x": {"datum": 5, "type": "quantitative", "scale": {"domain": [0,1,2,3,4,5,6,7,8,9,10,11], "range": [3.5,34,164,200,241,275,310,352,441,557,629,673], "nice": false, "zero": false}, "axis": null}, "y": {"field": "i", "type": "quantitative", "scale": {"domain": [-7.11, 6.52], "reverse": true, "nice": false, "zero": false}, "axis": null}, "text": {"field": "n2", "type": "quantitative", "format": "d"}}},
{"mark": {"type": "text", "align": "right", "fontSize": 11.5}, "encoding": {"x": {"datum": 6, "type": "quantitative", "scale": {"domain": [0,1,2,3,4,5,6,7,8,9,10,11], "range": [3.5,34,164,200,241,275,310,352,441,557,629,673], "nice": false, "zero": false}, "axis": null}, "y": {"field": "i", "type": "quantitative", "scale": {"domain": [-7.11, 6.52], "reverse": true, "nice": false, "zero": false}, "axis": null}, "text": {"field": "m2", "type": "quantitative", "format": ".2f"}}},
{"mark": {"type": "text", "align": "right", "fontSize": 11.5}, "encoding": {"x": {"datum": 7, "type": "quantitative", "scale": {"domain": [0,1,2,3,4,5,6,7,8,9,10,11], "range": [3.5,34,164,200,241,275,310,352,441,557,629,673], "nice": false, "zero": false}, "axis": null}, "y": {"field": "i", "type": "quantitative", "scale": {"domain": [-7.11, 6.52], "reverse": true, "nice": false, "zero": false}, "axis": null}, "text": {"field": "sd2", "type": "quantitative", "format": ".4f"}}},
{"mark": {"type": "text", "align": "right", "fontSize": 11.5}, "encoding": {"x": {"datum": 9, "type": "quantitative", "scale": {"domain": [0,1,2,3,4,5,6,7,8,9,10,11], "range": [3.5,34,164,200,241,275,310,352,441,557,629,673], "nice": false, "zero": false}, "axis": null}, "y": {"field": "i", "type": "quantitative", "scale": {"domain": [-7.11, 6.52], "reverse": true, "nice": false, "zero": false}, "axis": null}, "text": {"field": "smd", "type": "quantitative", "format": ".2f"}}},
{"mark": {"type": "text", "align": "right", "fontSize": 11.5}, "encoding": {"x": {"datum": 10, "type": "quantitative", "scale": {"domain": [0,1,2,3,4,5,6,7,8,9,10,11], "range": [3.5,34,164,200,241,275,310,352,441,557,629,673], "nice": false, "zero": false}, "axis": null}, "y": {"field": "i", "type": "quantitative", "scale": {"domain": [-7.11, 6.52], "reverse": true, "nice": false, "zero": false}, "axis": null}, "text": {"field": "ci", "type": "nominal"}}},
{"mark": {"type": "text", "align": "right", "fontSize": 11.5}, "encoding": {"x": {"datum": 11, "type": "quantitative", "scale": {"domain": [0,1,2,3,4,5,6,7,8,9,10,11], "range": [3.5,34,164,200,241,275,310,352,441,557,629,673], "nice": false, "zero": false}, "axis": null}, "y": {"field": "i", "type": "quantitative", "scale": {"domain": [-7.11, 6.52], "reverse": true, "nice": false, "zero": false}, "axis": null}, "text": {"field": "w", "type": "quantitative", "format": ".1%"}}},
{"data": {"name": "one"}, "mark": {"type": "text", "align": "left", "font": "Liberation Serif", "fontSize": 19, "fontWeight": "bold"}, "encoding": {"x": {"datum": 0, "type": "quantitative", "scale": {"domain": [0,1,2,3,4,5,6,7,8,9,10,11], "range": [3.5,34,164,200,241,275,310,352,441,557,629,673], "nice": false, "zero": false}, "axis": null}, "y": {"datum": -4.87, "type": "quantitative", "scale": {"domain": [-7.11, 6.52], "reverse": true, "nice": false, "zero": false}, "axis": null}, "text": {"value": "C"}}},
{"data": {"name": "one"}, "mark": {"type": "text", "align": "left", "font": "Liberation Serif", "fontSize": 19}, "encoding": {"x": {"datum": 1, "type": "quantitative", "scale": {"domain": [0,1,2,3,4,5,6,7,8,9,10,11], "range": [3.5,34,164,200,241,275,310,352,441,557,629,673], "nice": false, "zero": false}, "axis": null}, "y": {"datum": -4.87, "type": "quantitative", "scale": {"domain": [-7.11, 6.52], "reverse": true, "nice": false, "zero": false}, "axis": null}, "text": {"value": "Potassium level reduction"}}},
{"data": {"name": "one"}, "mark": {"type": "text", "align": "right", "fontWeight": "bold", "fontSize": 11.5}, "encoding": {"x": {"datum": 4, "type": "quantitative", "scale": {"domain": [0,1,2,3,4,5,6,7,8,9,10,11], "range": [3.5,34,164,200,241,275,310,352,441,557,629,673], "nice": false, "zero": false}, "axis": null}, "y": {"datum": -1.94, "type": "quantitative", "scale": {"domain": [-7.11, 6.52], "reverse": true, "nice": false, "zero": false}, "axis": null}, "text": {"value": "Novel Potassium Binders"}}},
{"data": {"name": "one"}, "mark": {"type": "text", "align": "right", "fontWeight": "bold", "fontSize": 11.5}, "encoding": {"x": {"datum": 7, "type": "quantitative", "scale": {"domain": [0,1,2,3,4,5,6,7,8,9,10,11], "range": [3.5,34,164,200,241,275,310,352,441,557,629,673], "nice": false, "zero": false}, "axis": null}, "y": {"datum": -1.94, "type": "quantitative", "scale": {"domain": [-7.11, 6.52], "reverse": true, "nice": false, "zero": false}, "axis": null}, "text": {"value": "Placebo"}}},
{"data": {"name": "one"}, "mark": {"type": "text", "align": "center", "fontWeight": "bold", "fontSize": 11.5}, "encoding": {"x": {"datum": 8, "type": "quantitative", "scale": {"domain": [0,1,2,3,4,5,6,7,8,9,10,11], "range": [3.5,34,164,200,241,275,310,352,441,557,629,673], "nice": false, "zero": false}, "axis": null}, "y": {"datum": -1.94, "type": "quantitative", "scale": {"domain": [-7.11, 6.52], "reverse": true, "nice": false, "zero": false}, "axis": null}, "text": {"value": "Standardised Mean"}}},
{"data": {"name": "one"}, "mark": {"type": "text", "align": "left", "fontWeight": "bold", "fontSize": 11.5}, "encoding": {"x": {"datum": 0, "type": "quantitative", "scale": {"domain": [0,1,2,3,4,5,6,7,8,9,10,11], "range": [3.5,34,164,200,241,275,310,352,441,557,629,673], "nice": false, "zero": false}, "axis": null}, "y": {"datum": -0.94, "type": "quantitative", "scale": {"domain": [-7.11, 6.52], "reverse": true, "nice": false, "zero": false}, "axis": null}, "text": {"value": "Study"}}},
{"data": {"name": "one"}, "mark": {"type": "text", "align": "right", "fontWeight": "bold", "fontSize": 11.5}, "encoding": {"x": {"datum": 2, "type": "quantitative", "scale": {"domain": [0,1,2,3,4,5,6,7,8,9,10,11], "range": [3.5,34,164,200,241,275,310,352,441,557,629,673], "nice": false, "zero": false}, "axis": null}, "y": {"datum": -0.94, "type": "quantitative", "scale": {"domain": [-7.11, 6.52], "reverse": true, "nice": false, "zero": false}, "axis": null}, "text": {"value": "Total"}}},
{"data": {"name": "one"}, "mark": {"type": "text", "align": "right", "fontWeight": "bold", "fontSize": 11.5}, "encoding": {"x": {"datum": 3, "type": "quantitative", "scale": {"domain": [0,1,2,3,4,5,6,7,8,9,10,11], "range": [3.5,34,164,200,241,275,310,352,441,557,629,673], "nice": false, "zero": false}, "axis": null}, "y": {"datum": -0.94, "type": "quantitative", "scale": {"domain": [-7.11, 6.52], "reverse": true, "nice": false, "zero": false}, "axis": null}, "text": {"value": "Mean"}}},
{"data": {"name": "one"}, "mark": {"type": "text", "align": "right", "fontWeight": "bold", "fontSize": 11.5}, "encoding": {"x": {"datum": 4, "type": "quantitative", "scale": {"domain": [0,1,2,3,4,5,6,7,8,9,10,11], "range": [3.5,34,164,200,241,275,310,352,441,557,629,673], "nice": false, "zero": false}, "axis": null}, "y": {"datum": -0.94, "type": "quantitative", "scale": {"domain": [-7.11, 6.52], "reverse": true, "nice": false, "zero": false}, "axis": null}, "text": {"value": "SD"}}},
{"data": {"name": "one"}, "mark": {"type": "text", "align": "right", "fontWeight": "bold", "fontSize": 11.5}, "encoding": {"x": {"datum": 5, "type": "quantitative", "scale": {"domain": [0,1,2,3,4,5,6,7,8,9,10,11], "range": [3.5,34,164,200,241,275,310,352,441,557,629,673], "nice": false, "zero": false}, "axis": null}, "y": {"datum": -0.94, "type": "quantitative", "scale": {"domain": [-7.11, 6.52], "reverse": true, "nice": false, "zero": false}, "axis": null}, "text": {"value": "Total"}}},
{"data": {"name": "one"}, "mark": {"type": "text", "align": "right", "fontWeight": "bold", "fontSize": 11.5}, "encoding": {"x": {"datum": 6, "type": "quantitative", "scale": {"domain": [0,1,2,3,4,5,6,7,8,9,10,11], "range": [3.5,34,164,200,241,275,310,352,441,557,629,673], "nice": false, "zero": false}, "axis": null}, "y": {"datum": -0.94, "type": "quantitative", "scale": {"domain": [-7.11, 6.52], "reverse": true, "nice": false, "zero": false}, "axis": null}, "text": {"value": "Mean"}}},
{"data": {"name": "one"}, "mark": {"type": "text", "align": "right", "fontWeight": "bold", "fontSize": 11.5}, "encoding": {"x": {"datum": 7, "type": "quantitative", "scale": {"domain": [0,1,2,3,4,5,6,7,8,9,10,11], "range": [3.5,34,164,200,241,275,310,352,441,557,629,673], "nice": false, "zero": false}, "axis": null}, "y": {"datum": -0.94, "type": "quantitative", "scale": {"domain": [-7.11, 6.52], "reverse": true, "nice": false, "zero": false}, "axis": null}, "text": {"value": "SD"}}},
{"data": {"name": "one"}, "mark": {"type": "text", "align": "center", "fontWeight": "bold", "fontSize": 11.5}, "encoding": {"x": {"datum": 8, "type": "quantitative", "scale": {"domain": [0,1,2,3,4,5,6,7,8,9,10,11], "range": [3.5,34,164,200,241,275,310,352,441,557,629,673], "nice": false, "zero": false}, "axis": null}, "y": {"datum": -0.94, "type": "quantitative", "scale": {"domain": [-7.11, 6.52], "reverse": true, "nice": false, "zero": false}, "axis": null}, "text": {"value": "Difference"}}},
{"data": {"name": "one"}, "mark": {"type": "text", "align": "right", "fontWeight": "bold", "fontSize": 11.5}, "encoding": {"x": {"datum": 9, "type": "quantitative", "scale": {"domain": [0,1,2,3,4,5,6,7,8,9,10,11], "range": [3.5,34,164,200,241,275,310,352,441,557,629,673], "nice": false, "zero": false}, "axis": null}, "y": {"datum": -0.94, "type": "quantitative", "scale": {"domain": [-7.11, 6.52], "reverse": true, "nice": false, "zero": false}, "axis": null}, "text": {"value": "SMD"}}},
{"data": {"name": "one"}, "mark": {"type": "text", "align": "right", "fontWeight": "bold", "fontSize": 11.5}, "encoding": {"x": {"datum": 10, "type": "quantitative", "scale": {"domain": [0,1,2,3,4,5,6,7,8,9,10,11], "range": [3.5,34,164,200,241,275,310,352,441,557,629,673], "nice": false, "zero": false}, "axis": null}, "y": {"datum": -0.94, "type": "quantitative", "scale": {"domain": [-7.11, 6.52], "reverse": true, "nice": false, "zero": false}, "axis": null}, "text": {"value": "95%-CI"}}},
{"data": {"name": "one"}, "mark": {"type": "text", "align": "right", "fontWeight": "bold", "fontSize": 11.5}, "encoding": {"x": {"datum": 11, "type": "quantitative", "scale": {"domain": [0,1,2,3,4,5,6,7,8,9,10,11], "range": [3.5,34,164,200,241,275,310,352,441,557,629,673], "nice": false, "zero": false}, "axis": null}, "y": {"datum": -0.94, "type": "quantitative", "scale": {"domain": [-7.11, 6.52], "reverse": true, "nice": false, "zero": false}, "axis": null}, "text": {"value": "Weight"}}},
{"data": {"name": "Cs"}, "mark": {"type": "text", "align": "left", "fontWeight": "bold", "fontSize": 11.5}, "encoding": {"x": {"datum": 0, "type": "quantitative", "scale": {"domain": [0,1,2,3,4,5,6,7,8,9,10,11], "range": [3.5,34,164,200,241,275,310,352,441,557,629,673], "nice": false, "zero": false}, "axis": null}, "y": {"datum": 6, "type": "quantitative", "scale": {"domain": [-7.11, 6.52], "reverse": true, "nice": false, "zero": false}, "axis": null}, "text": {"field": "label", "type": "nominal"}}},
{"data": {"name": "Cs"}, "mark": {"type": "text", "align": "right", "fontWeight": "bold", "fontSize": 11.5}, "encoding": {"x": {"datum": 2, "type": "quantitative", "scale": {"domain": [0,1,2,3,4,5,6,7,8,9,10,11], "range": [3.5,34,164,200,241,275,310,352,441,557,629,673], "nice": false, "zero": false}, "axis": null}, "y": {"datum": 6, "type": "quantitative", "scale": {"domain": [-7.11, 6.52], "reverse": true, "nice": false, "zero": false}, "axis": null}, "text": {"field": "n1", "type": "quantitative", "format": "d"}}},
{"data": {"name": "Cs"}, "mark": {"type": "text", "align": "right", "fontWeight": "bold", "fontSize": 11.5}, "encoding": {"x": {"datum": 5, "type": "quantitative", "scale": {"domain": [0,1,2,3,4,5,6,7,8,9,10,11], "range": [3.5,34,164,200,241,275,310,352,441,557,629,673], "nice": false, "zero": false}, "axis": null}, "y": {"datum": 6, "type": "quantitative", "scale": {"domain": [-7.11, 6.52], "reverse": true, "nice": false, "zero": false}, "axis": null}, "text": {"field": "n2", "type": "quantitative", "format": "d"}}},
{"data": {"name": "Cs"}, "mark": {"type": "text", "align": "right", "fontWeight": "bold", "fontSize": 11.5}, "encoding": {"x": {"datum": 9, "type": "quantitative", "scale": {"domain": [0,1,2,3,4,5,6,7,8,9,10,11], "range": [3.5,34,164,200,241,275,310,352,441,557,629,673], "nice": false, "zero": false}, "axis": null}, "y": {"datum": 6, "type": "quantitative", "scale": {"domain": [-7.11, 6.52], "reverse": true, "nice": false, "zero": false}, "axis": null}, "text": {"field": "smd", "type": "quantitative", "format": ".2f"}}},
{"data": {"name": "Cs"}, "mark": {"type": "text", "align": "right", "fontWeight": "bold", "fontSize": 11.5}, "encoding": {"x": {"datum": 10, "type": "quantitative", "scale": {"domain": [0,1,2,3,4,5,6,7,8,9,10,11], "range": [3.5,34,164,200,241,275,310,352,441,557,629,673], "nice": false, "zero": false}, "axis": null}, "y": {"datum": 6, "type": "quantitative", "scale": {"domain": [-7.11, 6.52], "reverse": true, "nice": false, "zero": false}, "axis": null}, "text": {"field": "ci", "type": "nominal"}}},
{"data": {"name": "Cs"}, "mark": {"type": "text", "align": "right", "fontWeight": "bold", "fontSize": 11.5}, "encoding": {"x": {"datum": 11, "type": "quantitative", "scale": {"domain": [0,1,2,3,4,5,6,7,8,9,10,11], "range": [3.5,34,164,200,241,275,310,352,441,557,629,673], "nice": false, "zero": false}, "axis": null}, "y": {"datum": 6, "type": "quantitative", "scale": {"domain": [-7.11, 6.52], "reverse": true, "nice": false, "zero": false}, "axis": null}, "text": {"field": "w", "type": "quantitative", "format": ".1%"}}},
{"data": {"name": "one"}, "mark": {"type": "text", "align": "left", "fontSize": 10.5}, "encoding": {"x": {"datum": 0, "type": "quantitative", "scale": {"domain": [0,1,2,3,4,5,6,7,8,9,10,11], "range": [3.5,34,164,200,241,275,310,352,441,557,629,673], "nice": false, "zero": false}, "axis": null}, "y": {"datum": 6.94, "type": "quantitative", "scale": {"domain": [-7.11, 6.52], "reverse": true, "nice": false, "zero": false}, "axis": null}, "text": {"value": "Heterogeneity: I² = 83.2%, τ² = 0.1308, p = 0.0005"}}},
{"data": {"name": "one"}, "mark": {"type": "text", "align": "left", "fontSize": 13.5}, "encoding": {"x": {"datum": 0, "type": "quantitative", "scale": {"domain": [0,1,2,3,4,5,6,7,8,9,10,11], "range": [3.5,34,164,200,241,275,310,352,441,557,629,673], "nice": false, "zero": false}, "axis": null}, "y": {"datum": 8.06, "type": "quantitative", "scale": {"domain": [-7.11, 6.52], "reverse": true, "nice": false, "zero": false}, "axis": null}, "text": {"value": "Test for overall effect: Z = -3.38, p = 0.0007"}}},
{"data": {"name": "one"}, "mark": {"type": "rule", "color": "#333", "strokeWidth": 1}, "encoding": {"x": {"datum": 0, "type": "quantitative", "scale": {"domain": [-2, 1], "range": [358, 524], "nice": false, "zero": false}, "axis": null}, "y": {"datum": 0.5, "type": "quantitative", "scale": {"domain": [-7.11, 6.52], "reverse": true, "nice": false, "zero": false}, "axis": null}, "y2": {"datum": 6.52}}},
{"data": {"name": "Cs"}, "mark": {"type": "rule", "color": "#777", "strokeDash": [2, 2]}, "encoding": {"x": {"field": "smd", "type": "quantitative", "scale": {"domain": [-2, 1], "range": [358, 524], "nice": false, "zero": false}, "axis": null}, "y": {"datum": 0.5, "type": "quantitative", "scale": {"domain": [-7.11, 6.52], "reverse": true, "nice": false, "zero": false}, "axis": null}, "y2": {"datum": 5.6}}},
{"mark": {"type": "point", "shape": "square", "filled": true, "color": "#BEBEBE", "opacity": 1}, "encoding": {"x": {"field": "smd", "type": "quantitative", "scale": {"domain": [-2, 1], "range": [358, 524], "nice": false, "zero": false}, "axis": {"orient": "bottom", "values": [-2, -1.5, -1, -0.5, 0, 0.5, 1], "labelExpr": "'' + datum.value", "title": null, "labelFontSize": 12}}, "y": {"field": "i", "type": "quantitative", "scale": {"domain": [-7.11, 6.52], "reverse": true, "nice": false, "zero": false}, "axis": null}, "size": {"field": "w", "type": "quantitative", "scale": {"domain": [0, 0.33], "range": [0, 144]}, "legend": null}}},
{"mark": {"type": "rule", "color": "#333", "strokeWidth": 1}, "encoding": {"x": {"field": "lo", "type": "quantitative", "scale": {"domain": [-2, 1], "range": [358, 524], "nice": false, "zero": false}, "axis": null}, "x2": {"field": "hi"}, "y": {"field": "i", "type": "quantitative", "scale": {"domain": [-7.11, 6.52], "reverse": true, "nice": false, "zero": false}, "axis": null}}},
{"mark": {"type": "tick", "orient": "vertical", "size": 4, "thickness": 1, "color": "#222"}, "encoding": {"x": {"field": "smd", "type": "quantitative", "scale": {"domain": [-2, 1], "range": [358, 524], "nice": false, "zero": false}, "axis": null}, "y": {"field": "i", "type": "quantitative", "scale": {"domain": [-7.11, 6.52], "reverse": true, "nice": false, "zero": false}, "axis": null}}},
{"data": {"name": "Cs"}, "transform": [{"fold": ["lo", "smd", "hi"]}], "mark": {"type": "trail", "color": "#666"}, "encoding": {"x": {"field": "value", "type": "quantitative", "scale": {"domain": [-2, 1], "range": [358, 524], "nice": false, "zero": false}, "axis": null}, "y": {"datum": 6, "type": "quantitative", "scale": {"domain": [-7.11, 6.52], "reverse": true, "nice": false, "zero": false}, "axis": null}, "size": {"condition": {"test": "datum.key === 'smd'", "value": 11.5}, "value": 0}}},
{"data": {"name": "Cs"}, "transform": [{"fold": ["lo", "smd", "hi"]}], "mark": {"type": "trail", "color": "#C4C4C4"}, "encoding": {"x": {"field": "value", "type": "quantitative", "scale": {"domain": [-2, 1], "range": [358, 524], "nice": false, "zero": false}, "axis": null}, "y": {"datum": 6, "type": "quantitative", "scale": {"domain": [-7.11, 6.52], "reverse": true, "nice": false, "zero": false}, "axis": null}, "size": {"condition": {"test": "datum.key === 'smd'", "value": 9.5}, "value": 0}}},
{"data": {"name": "one"}, "mark": {"type": "text", "align": "right", "dx": -6, "fontSize": 12}, "encoding": {"x": {"datum": 0, "type": "quantitative", "scale": {"domain": [-2, 1], "range": [358, 524], "nice": false, "zero": false}, "axis": null}, "y": {"datum": 8.76, "type": "quantitative", "scale": {"domain": [-7.11, 6.52], "reverse": true, "nice": false, "zero": false}, "axis": null}, "text": {"value": "Favors Novel Potassium Binders"}}},
{"data": {"name": "one"}, "mark": {"type": "text", "align": "left", "dx": 5, "fontSize": 12}, "encoding": {"x": {"datum": 0, "type": "quantitative", "scale": {"domain": [-2, 1], "range": [358, 524], "nice": false, "zero": false}, "axis": null}, "y": {"datum": 8.76, "type": "quantitative", "scale": {"domain": [-7.11, 6.52], "reverse": true, "nice": false, "zero": false}, "axis": null}, "text": {"value": "Favors Placebo"}}}
]
}
],
"spacing": 60,
"bounds": "flush",
"resolve": {"scale": {"x": "independent", "y": "independent", "size": "independent"}},
"config": {
"view": {"stroke": null},
"locale": {"number": {"decimal": ".", "thousands": ",", "grouping": [3], "currency": ["$", ""], "minus": "-"}},
"text": {"font": "Liberation Sans", "fontSize": 13, "baseline": "middle", "color": "#000"},
"axis": {"grid": false, "domainColor": "#444", "tickColor": "#444", "tickSize": 8, "labelPadding": 5, "labelFont": "Liberation Sans", "labelFontSize": 13, "labelColor": "#000", "labelOverlap": false, "labelFlush": false, "labelBound": false}
}
}
